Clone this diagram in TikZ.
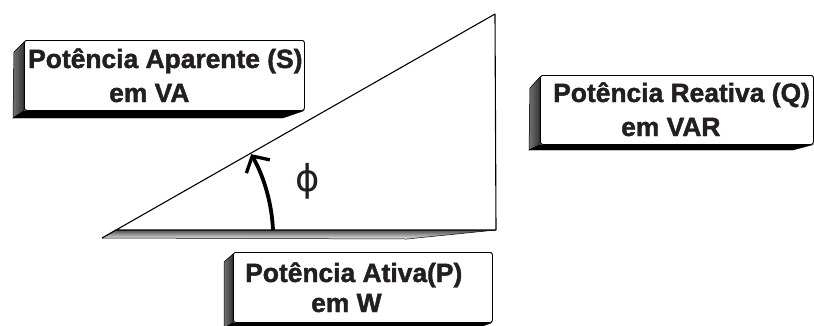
\documentclass[tikz,border=0pt]{standalone}
\usepackage{fontspec}
\setmainfont{Liberation Sans}[BoldFeatures={FakeBold=1.6}]
\newfontfamily\phifont{DejaVu Sans}
\usetikzlibrary{arrows.meta}
\definecolor{ink}{HTML}{231F20}
\tikzset{
  x=1pt, y=1pt,
  face/.style={draw=black, line width=0.8pt, fill=white, rounded corners=2.5pt, inner sep=0pt},
  sideface/.style={draw=black, line width=0.5pt, left color=black!55, right color=black!80},
  bottomface/.style={fill=black, draw=black, line width=0.3pt},
  lbl/.style={anchor=base west, inner sep=0pt, text=ink, font=\fontsize{26.4}{30}\selectfont\bfseries},
  edge/.style={line width=1.1pt, line join=round},
  anglearrow/.style={line width=3.8pt, -{Straight Barb[length=12pt,width=27pt,line width=3.3pt]}}
}
\begin{document}
\begin{tikzpicture}
\useasboundingbox (0,0) rectangle (814,-325);

% ---------- triangle ----------
\coordinate (L) at (102,-238);
\coordinate (Lb) at (115,-230);
\coordinate (T) at (495,-14);
\coordinate (R) at (496,-230);
\coordinate (Sb) at (407,-239);
\shade[top color=black!70, bottom color=black!8] (L) -- (Lb) -- (R) -- (Sb) -- cycle;
\draw[line width=0.5pt] (L) -- (Sb) -- (R);
\draw[edge] (L) -- (T) -- (R) -- (Lb);

% angle arrow
\coordinate (arcS) at (273,-230);
\draw[anglearrow] (arcS) arc[start angle=2.7, end angle=29.4, radius=171];
\node[inner sep=0pt, text=ink, font=\phifont\fontsize{37}{40}\selectfont] (phi) at (308,-181) {ϕ};

% ---------- box S ----------
\node[face, minimum width=280pt, minimum height=70pt, anchor=north west] (bS) at (24,-40) {};
\fill[sideface] ([yshift=-2pt]bS.north west) -- ++(-10,-10) -- (13,-118) -- (bS.south west) -- cycle;
\fill[bottomface] (13,-118) -- (bS.south west) -- ([xshift=-1pt]bS.south east) -- (283,-118) -- cycle;
\node[face, minimum width=280pt, minimum height=70pt, anchor=north west] at (24,-40) {};
\node[lbl] (sA) at (28,-68) {Potência Aparente (S)};
\node[lbl] (sB) at (109,-102) {em VA};

% ---------- box Q ----------
\node[face, minimum width=273pt, minimum height=69pt, anchor=north west] (bQ) at (540,-75) {};
\fill[sideface] ([yshift=-2pt]bQ.north west) -- ++(-10,-11) -- (529,-150) -- (bQ.south west) -- cycle;
\fill[bottomface] (529,-150) -- (bQ.south west) -- ([xshift=-1pt]bQ.south east) -- (793,-150) -- cycle;
\node[face, minimum width=273pt, minimum height=69pt, anchor=north west] at (540,-75) {};
\node[lbl] (qA) at (553,-102) {Potência Reativa (Q)};
\node[lbl] (qB) at (621,-136) {em VAR};

% ---------- box P ----------
\node[face, minimum width=259pt, minimum height=70pt, anchor=north west] (bP) at (233,-252) {};
\fill[sideface] ([yshift=-2pt]bP.north west) -- ++(-9,-8) -- (224,-328) -- (bP.south west) -- cycle;
\fill[bottomface] (224,-328) -- (bP.south west) -- ([xshift=-1pt]bP.south east) -- (472,-330) -- cycle;
\node[face, minimum width=259pt, minimum height=70pt, anchor=north west] at (233,-252) {};
\node[lbl] (pA) at (245,-282) {Potência Ativa(P)};
\node[lbl] (pB) at (311,-312) {em W};
\end{tikzpicture}
\end{document}
